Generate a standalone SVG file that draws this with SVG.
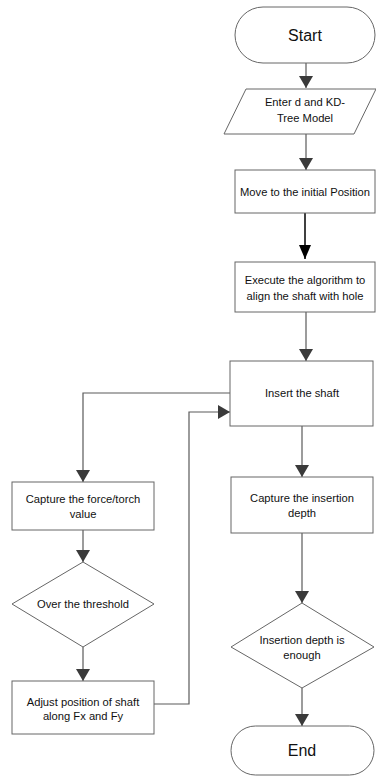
<svg xmlns="http://www.w3.org/2000/svg" width="376" height="783" viewBox="0 0 376 783">
<defs>
<marker id="ah" markerWidth="12" markerHeight="14" refX="12" refY="7" orient="auto" markerUnits="userSpaceOnUse">
<path d="M0,0 L12,7 L0,14 Z" fill="#3a3a3a"/>
</marker>
<marker id="ahb" markerWidth="14" markerHeight="12" refX="14" refY="6" orient="auto" markerUnits="userSpaceOnUse">
<path d="M0,0 L14,6 L0,12 Z" fill="#000"/>
</marker>
<style>
.s{fill:#fff;stroke:#666;stroke-width:1}
.c{fill:none;stroke:#5a5a5a;stroke-width:1.2}
.t{font-family:"Liberation Sans",Arial,sans-serif;font-size:11.2px;fill:#111;text-anchor:middle}
.tl{font-family:"Liberation Sans",Arial,sans-serif;font-size:16px;fill:#111;text-anchor:middle}
</style>
</defs>
<rect width="376" height="783" fill="#fff"/>
<g id="connectors">
<path class="c" d="M306,63 V88" marker-end="url(#ah)"/>
<path class="c" d="M306,134 V170" marker-end="url(#ah)"/>
<path d="M305,213 V259" fill="none" stroke="#000" stroke-width="1.5" marker-end="url(#ahb)"/>
<path class="c" d="M306,312 V361" marker-end="url(#ah)"/>
<path class="c" d="M302,426 V477" marker-end="url(#ah)"/>
<path class="c" d="M230,393 H83 V482" marker-end="url(#ah)"/>
<path class="c" d="M83,530 V562" marker-end="url(#ah)"/>
<path class="c" d="M83,647 V681" marker-end="url(#ah)"/>
<path class="c" d="M154,704 H189 V412 H230" marker-end="url(#ah)"/>
<path class="c" d="M302,533 V603" marker-end="url(#ah)"/>
<path class="c" d="M302,688 V726" marker-end="url(#ah)"/>
</g>
<g id="start">
<rect class="s" x="235" y="7" width="140" height="56" rx="28" ry="28"/>
<text class="tl" x="305" y="41">Start</text>
</g>
<g id="input">
<polygon class="s" points="246,89 376,89 354,134 224,134"/>
<text class="t" x="305" y="106">Enter d and KD-</text>
<text class="t" x="305" y="122">Tree Model</text>
</g>
<g id="move">
<rect class="s" x="235" y="170" width="140" height="43"/>
<text class="t" x="305" y="196">Move to the initial Position</text>
</g>
<g id="execute">
<rect class="s" x="235" y="262" width="140" height="50"/>
<text class="t" x="305" y="284">Execute the algorithm to</text>
<text class="t" x="305" y="300">align the shaft with hole</text>
</g>
<g id="insert">
<rect class="s" x="230" y="361" width="143" height="65"/>
<text class="t" x="302" y="397">Insert the shaft</text>
</g>
<g id="capture-depth">
<rect class="s" x="231" y="477" width="142" height="56"/>
<text class="t" x="302" y="502">Capture the insertion</text>
<text class="t" x="302" y="517">depth</text>
</g>
<g id="depth-check">
<polygon class="s" points="302,603 374,647 302,688 231,647"/>
<text class="t" x="302" y="644">Insertion depth is</text>
<text class="t" x="302" y="659">enough</text>
</g>
<g id="end">
<rect class="s" x="231" y="726" width="143" height="49" rx="24.5" ry="24.5"/>
<text class="tl" x="302" y="756">End</text>
</g>
<g id="capture-force">
<rect class="s" x="12" y="482" width="142" height="48"/>
<text class="t" x="83" y="503">Capture the force/torch</text>
<text class="t" x="83" y="518">value</text>
</g>
<g id="threshold">
<polygon class="s" points="83,562 154,604 83,647 12,604"/>
<text class="t" x="83" y="608">Over the threshold</text>
</g>
<g id="adjust">
<rect class="s" x="12" y="681" width="142" height="53"/>
<text class="t" x="83" y="706">Adjust position of shaft</text>
<text class="t" x="83" y="720">along Fx and Fy</text>
</g>
</svg>
